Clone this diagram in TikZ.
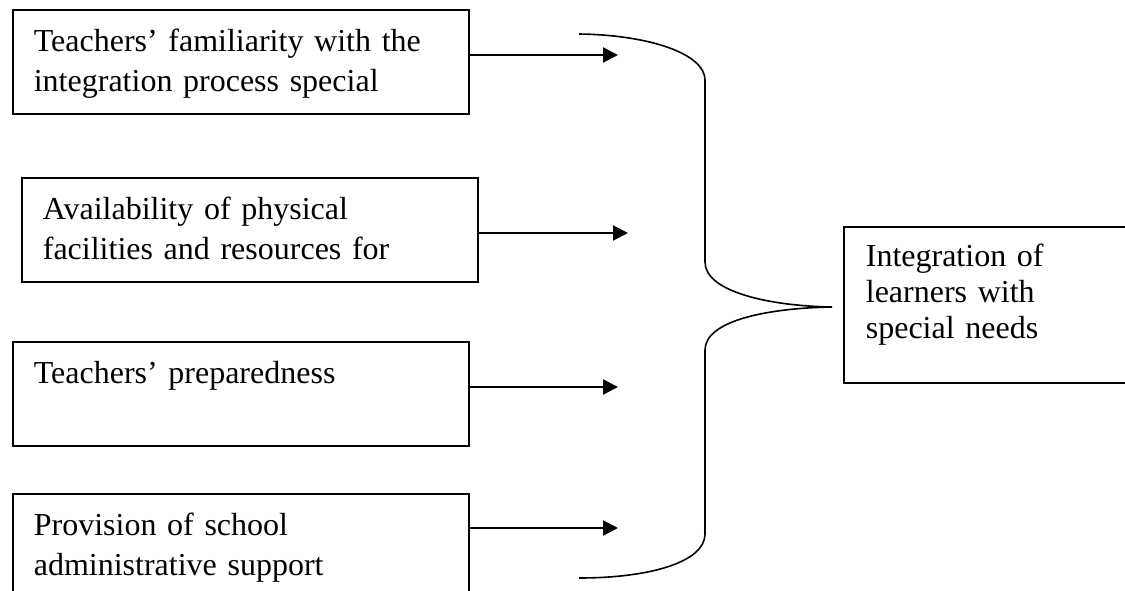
\documentclass[tikz,border=0pt]{standalone}
\usepackage{fontspec}
\setmainfont{Liberation Serif}
\usetikzlibrary{arrows.meta}

\tikzset{
    factor/.style={draw, line width=1.7pt, anchor=north west,
        minimum width=456pt, text width=414pt, align=left,
        inner xsep=21pt, inner ysep=0pt, text height=42pt, text depth=62pt,
        font=\fontsize{32}{40}\selectfont},
    outcome/.style={draw, line width=1.7pt, anchor=north west,
        text width=400pt, align=left,
        inner xsep=22pt, inner ysep=0pt, text height=40pt, text depth=116pt,
        font=\fontsize{32}{36}\selectfont},
    link/.style={line width=2.2pt, -{Triangle[length=15pt,width=15pt]}}
}

\begin{document}
\begin{tikzpicture}[x=1pt, y=-1pt]

    \useasboundingbox (0,0) rectangle (1125,591);

    % Factors on the left
    \foreach \n/\x/\y/\txt in {1/12/9/{Teachers’ familiarity with the\\integration process special},
                               2/21/177/{Availability of physical\\facilities and resources for},
                               3/12/341/{Teachers’ preparedness},
                               4/12/493/{Provision of school\\administrative support}}
        \node[factor] (f\n) at (\x,\y) {\txt};

    % Outcome box on the right
    \node[outcome] (integ) at (843,226) {Integration of\\learners with\\special needs};

    % Arrows from each factor
    \foreach \n/\y/\xe in {1/55/618, 2/233/628, 3/387/618, 4/528/618}
    {
        \coordinate (e\n) at (\xe,\y);
        \draw[link] (f\n.east |- e\n) -- (e\n);
    }

    % Brace gathering the factors
    \coordinate (tip) at (832,307);
    \draw[line width=1.6pt]
        (579,34) .. controls (650,35) and (705,54) .. (705,80)
        -- (705,262) .. controls (705,292) and (770,306) .. (tip)
        .. controls (770,308) and (705,320) .. (705,350)
        -- (705,534) .. controls (705,562) and (650,578) .. (579,578);

\end{tikzpicture}
\end{document}
